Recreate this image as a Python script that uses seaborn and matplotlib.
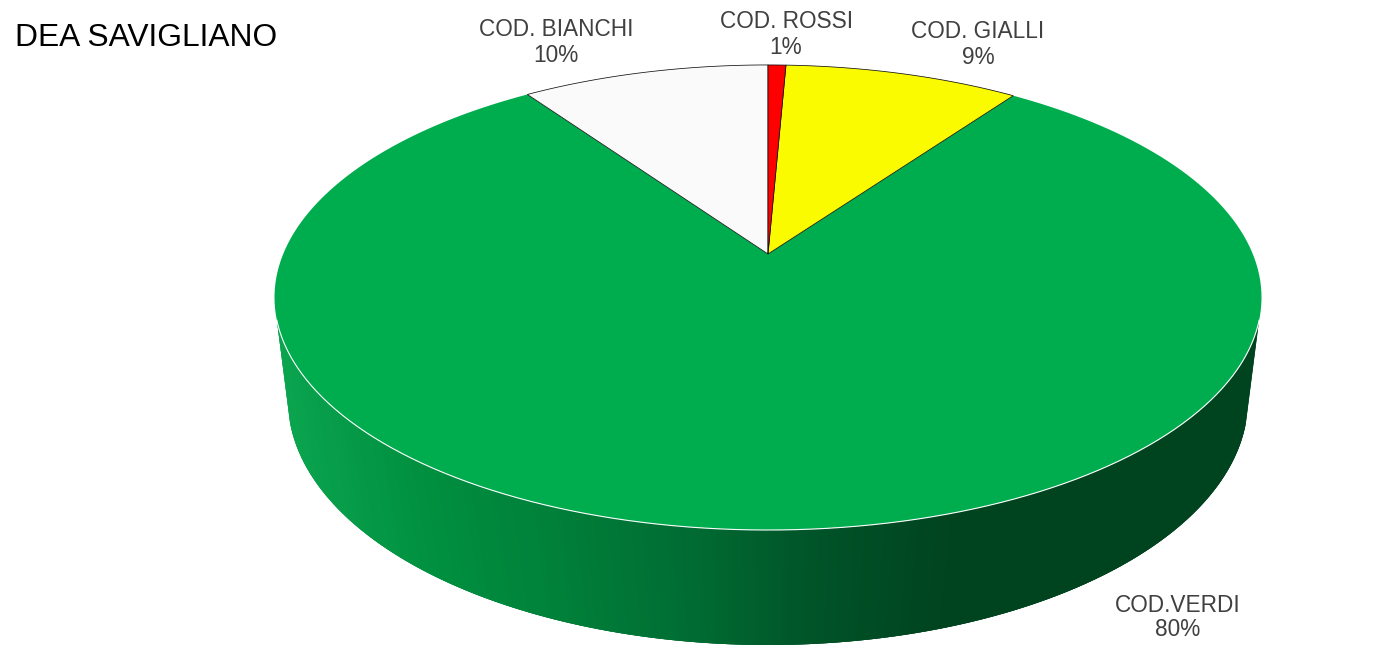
import numpy as np
import matplotlib
matplotlib.use("Agg")
import matplotlib.pyplot as plt
import seaborn as sns

# ── data, clockwise from 12 o'clock ─────────────────────────
labels = ["COD. ROSSI", "COD. GIALLI", "COD.VERDI", "COD. BIANCHI"]
values = [0.7, 9.2, 80.4, 9.7]
colors = ["#ff0000", "#fbfb00", "#00ad4e", "#fafafa"]
title = "DEA SAVIGLIANO"

sns.set_theme(style="white")
plt.rcParams["font.family"] = ["Liberation Sans", "DejaVu Sans"]

fig, ax = plt.subplots(figsize=(13.84, 6.72), dpi=100)
fig.subplots_adjust(0, 0, 1, 1)
ax.set_xlim(0, 1384)
ax.set_ylim(672, 0)
ax.axis("off")


# ── perspective top disc : circle angle (degrees) -> pixels ─
def top_rim(theta):
    t = np.radians(theta)
    w = 1 + 0.187 * np.cos(t)
    return 768 + 484.8 * np.sin(t) / w, 254 - 224.4 * np.cos(t) / w


# lower edge of the wall is a plain ellipse
def bottom_rim(theta):
    t = np.radians(theta)
    return 768 + 480 * np.sin(t), 400 - 245 * np.cos(t)


# ── side wall : thin strips with a left to right gradient ───
wall_cmap = sns.blend_palette(
    ["#0aa34e", "#009040", "#008039", "#006c33", "#005227", "#00431f"], as_cmap=True
)
n_strips = 300
top_edges = np.linspace(106.2, 253.8, n_strips + 1)
bottom_edges = np.linspace(95.2, 264.8, n_strips + 1)
for i in range(n_strips):
    # each strip runs over the next ones so no seams show
    j = min(i + 3, n_strips)
    x1, y1 = top_rim(top_edges[i:j + 1])
    x2, y2 = bottom_rim(bottom_edges[i:j + 1][::-1])
    xs = np.r_[x1, x2]
    col = wall_cmap(np.clip((xs.mean() - 290) / 660, 0, 1))
    ax.fill(xs, np.r_[y1, y2], color=col, lw=0, zorder=1)

# ── top face ────────────────────────────────────────────────
stops = np.r_[0, np.cumsum(values)] * 3.6
for i in np.argsort([v == max(values) for v in values])[::-1]:
    arc = np.linspace(stops[i], stops[i + 1], 200)
    x, y = top_rim(arc)
    xs = np.r_[768, x]
    ys = np.r_[254, y]
    if values[i] == max(values):
        ax.fill(xs, ys, color=colors[i], lw=0, zorder=2)
    else:
        ax.fill(xs, ys, facecolor=colors[i], edgecolor="#111111", lw=0.55, zorder=3)

# white rim over the wall
x, y = top_rim(np.linspace(106.2, 253.8, 300))
ax.plot(x, y, color="white", lw=0.8, zorder=4)

# ── text ────────────────────────────────────────────────────
label_pos = [(786, 20), (978, 30), (1178, 603), (556, 28)]
for name, val, (lx, ly) in zip(labels, values, label_pos):
    ax.text(lx, ly + 2, name, ha="center", va="center", fontsize=16.3, color="#404040")
    ax.text(lx, ly + 27, f"{val:.0f}%", ha="center", va="center", fontsize=16.3, color="#404040")

ax.text(15, 38, title, ha="left", va="center", fontsize=22.9, color="black")

fig.savefig("out.png", dpi=100, facecolor="white")
